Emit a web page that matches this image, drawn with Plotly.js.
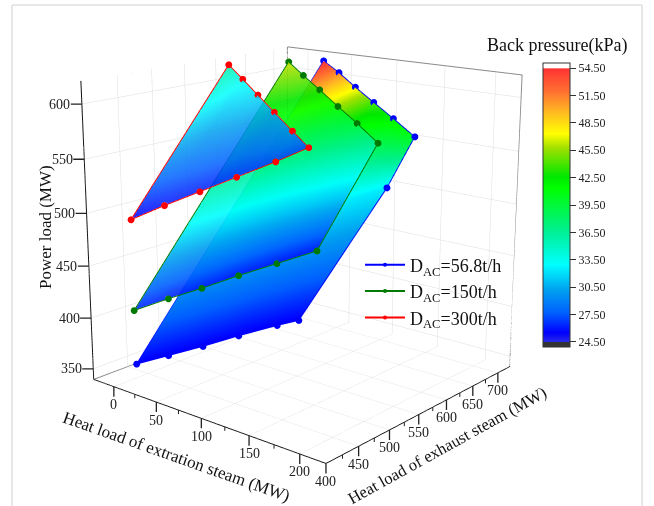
<!DOCTYPE html>
<html><head><meta charset="utf-8"><script src="https://cdn.plot.ly/plotly-3.0.1.min.js"></script>
<style>html,body{margin:0;background:#fff;overflow:hidden;width:654px;height:506px}#w{position:relative;width:654px;height:506px;overflow:hidden}#g{position:absolute;left:-52px;top:-348px;width:711px;height:1130px}</style></head>
<body><div id="w"><div id="g"></div></div>
<script>
var xRange=[-24.7,224.7],yRange=[400,724.7],zRange=[339.4,620.6];
var xTicks=[0,50,100,150,200],yTicks=[400,450,500,550,600,650,700],zTicks=[350,400,450,500,550,600];
var xMinor=[25,75,125,175],yMinor=[425,475,525,575,625,675];
// DAC = 56.8 t/h
var blueLowX=[0,40,80,120,160,183],blueLowY=[434,432,431,429,428,425],blueLowZ=[353,373,393,414,434,445],blueLowP=[25.5,25.5,25.5,25.5,25.5,25.5];
var blueMidX=[13,50,87,123,160,197],blueMidY=[543,547,549,549,545,538],blueMidZ=[459,475,492,508,524,541],blueMidP=[32.5,32.5,32.5,32.5,32.5,32.5];
var blueTopX=[30,64,98,132,166,200],blueTopY=[706,679,652,627,602,578],blueTopZ=[614,609,602,595,588,580],blueTopP=[54.5,51,47.5,44,42,40.5];
// DAC = 150 t/h
var greenLowX=[0,40,80,120,160,200],greenLowY=[433,434,431,430,428,425],greenLowZ=[406,427,447,468,488,508],greenLowP=[26.5,26.3,26.2,26.1,26,26];
var greenTopX=[-5,36,77,118,159,200],greenTopY=[697,660,624,589,553,517],greenTopZ=[610,605,600,594,589,583],greenTopP=[46.5,45,43,41,39,36.5];
// DAC = 300 t/h
var redLowX=[0,40,80,120,160,200],redLowY=[433,432,431,429,427,413],redLowZ=[493,514,534,554,574,594],redLowP=[25.5,26,26.2,26.5,26.8,27];
var redTopX=[-15,28,71,114,157,200],redTopY=[608,570,532,494,456,413],redTopZ=[615,610,605,600,595,594],redTopP=[36,33.5,32,30,29,27];
var seriesNames=['D<sub>AC</sub>=56.8t/h','D<sub>AC</sub>=150t/h','D<sub>AC</sub>=300t/h'];
var barTicks=[24.5,27.5,30.5,33.5,36.5,39.5,42.5,45.5,48.5,51.5,54.5];
var barLabels=['24.50','27.50','30.50','33.50','36.50','39.50','42.50','45.50','48.50','51.50','54.50'];
var PW=711,PH=1130,OX=-52,OY=-348;
function px(x){return (x-OX)/PW}function py(y){return 1-(y-OY)/PH}
var SERIF='Liberation Serif';
var cs=[[0,'#333333'],[0.017,'#333333'],[0.018,'#2a2ae8'],[0.05,'#0000ff'],[0.12,'#0060ff'],[0.2,'#00a0f0'],[0.29,'#00ffff'],[0.41,'#00f090'],[0.56,'#00ff00'],[0.6,'#00e800'],[0.7,'#a0e000'],[0.75,'#ffff00'],[0.82,'#ffc020'],[0.9,'#ff7030'],[0.98,'#ff3333'],[0.982,'#ffffff'],[1,'#ffffff']];
function sheet(X,Y,Z,C,op,bar){var s={type:'surface',x:X,y:Y,z:Z,surfacecolor:C,cmin:23.95,cmax:55.05,colorscale:cs,opacity:op,showscale:!!bar,hoverinfo:'skip',lighting:{ambient:1,diffuse:0,specular:0,roughness:1,fresnel:0}};
 if(bar)s.colorbar={x:px(543),xanchor:'left',y:py(63),yanchor:'top',lenmode:'pixels',len:284,thicknessmode:'pixels',thickness:27,xpad:0,ypad:0,outlinecolor:'#333',outlinewidth:1,ticks:'outside',ticklen:6,tickcolor:'#333',tickvals:barTicks,ticktext:barLabels,tickfont:{size:12,family:SERIF,color:'#222'}};
 return s}
function rev(a){return a.slice().reverse()}
function loop(X,Y,Z,name,c){return {type:'scatter3d',mode:'lines+markers',name:name,x:X,y:Y,z:Z,line:{color:c,width:2},marker:{color:c,size:4},hoverinfo:'skip'}}
var xa=xRange,ya=yRange,za=zRange;
var frameA={type:'scatter3d',mode:'lines',x:[xa[0],xa[0],xa[1],xa[1],xa[0]],y:[ya[0],ya[1],ya[1],ya[1],ya[1]],z:[za[1],za[1],za[1],za[0],za[0]],line:{color:'#8a8a8a',width:2},showlegend:false,hoverinfo:'skip'};
var frameB={type:'scatter3d',mode:'lines',x:[xa[0],xa[0]],y:[ya[1],ya[1]],z:[za[0],za[1]],line:{color:'#8a8a8a',width:2},showlegend:false,hoverinfo:'skip'};
var frameC={type:'scatter3d',mode:'lines',x:[xa[0],xa[0]],y:[ya[0],ya[1]],z:[za[0],za[0]],line:{color:'#8a8a8a',width:2},showlegend:false,hoverinfo:'skip'};
var data=[
 sheet([blueLowX,blueMidX,blueTopX],[blueLowY,blueMidY,blueTopY],[blueLowZ,blueMidZ,blueTopZ],[blueLowP,blueMidP,blueTopP],1,true),
 sheet([greenLowX,greenTopX],[greenLowY,greenTopY],[greenLowZ,greenTopZ],[greenLowP,greenTopP],0.9,false),
 sheet([redLowX,redTopX],[redLowY,redTopY],[redLowZ,redTopZ],[redLowP,redTopP],0.85,false),
 loop(blueLowX.concat(blueMidX[5],rev(blueTopX),blueLowX[0]),blueLowY.concat(blueMidY[5],rev(blueTopY),blueLowY[0]),blueLowZ.concat(blueMidZ[5],rev(blueTopZ),blueLowZ[0]),seriesNames[0],'#0000ff'),
 loop(greenLowX.concat(rev(greenTopX),greenLowX[0]),greenLowY.concat(rev(greenTopY),greenLowY[0]),greenLowZ.concat(rev(greenTopZ),greenLowZ[0]),seriesNames[1],'#007a00'),
 loop(redLowX.concat(rev(redTopX),redLowX[0]),redLowY.concat(rev(redTopY),redLowY[0]),redLowZ.concat(rev(redTopZ),redLowZ[0]),seriesNames[2],'#ff0000'),
 frameA,frameB,frameC];
function ax(r){return {range:r,tick0:0,dtick:50,title:{text:''},showticklabels:false,ticks:'',showbackground:false,showspikes:false,gridcolor:'#dddddd',gridwidth:1,zeroline:false,showline:true,linecolor:'#111',linewidth:2}}
function ann(t,x,y,a,s){return {xref:'paper',yref:'paper',x:px(x),y:py(y),text:t,textangle:a,showarrow:false,xanchor:'center',yanchor:'middle',font:{size:s,family:SERIF,color:'#111'}}}
function seg(x0,y0,x1,y1){return {type:'line',xref:'paper',yref:'paper',x0:px(x0),x1:px(x1),y0:py(y0),y1:py(y1),line:{color:'#d0d0d0',width:1}}}
function tick(x,y,z,label,dx,dy){return {x:x,y:y,z:z,text:String(label),showarrow:true,arrowhead:0,arrowwidth:1.3,arrowcolor:'#222',standoff:0,ax:dx,ay:dy,borderpad:0,font:{size:14,family:SERIF,color:'#222'}}}
function minor(x,y,z){return {x:x,y:y,z:z,text:'.',showarrow:true,arrowhead:0,arrowwidth:1,arrowcolor:'#222',standoff:0,ax:0,ay:5,borderpad:0,font:{size:1,family:SERIF,color:'rgba(0,0,0,0)'}}}
var tickAnn=[];
xTicks.forEach(function(v){tickAnn.push(tick(v,yRange[0],zRange[0],v,0,18))});
yTicks.forEach(function(v){tickAnn.push(tick(xRange[1],v,zRange[0],v,0,18))});
zTicks.forEach(function(v){tickAnn.push(tick(xRange[0],yRange[0],v,v,-22,0))});
xMinor.forEach(function(v){tickAnn.push(minor(v,yRange[0],zRange[0]))});
yMinor.forEach(function(v){tickAnn.push(minor(xRange[1],v,zRange[0]))});
var layout={width:PW,height:PH,margin:{l:0,r:0,t:0,b:0},paper_bgcolor:'#fff',showlegend:true,
 legend:{x:px(360),y:py(246.5),xanchor:'left',yanchor:'top',itemwidth:40,bgcolor:'rgba(0,0,0,0)',font:{size:18,family:SERIF,color:'#111'}},
 shapes:[seg(12,5,12,506),seg(642,5,642,506),seg(12,5,642,5)],
 annotations:[ann('Power load (MW)',45,227,-90,17),ann('Heat load of extration steam (MW)',176,456,19.5,17),ann('Heat load of exhaust steam (MW)',447,445,-29,16.5),ann('Back pressure(kPa)',557,45.7,0,18)],
 scene:{domain:{x:[0,1],y:[0,1]},aspectmode:'manual',aspectratio:{x:1,y:0.995,z:1.005},camera:{eye:{x:2.775,y:-3.3,z:1.21},center:{x:-0.017,y:0.016,z:0.037},up:{x:-0.002,y:-0.003,z:1}},
 annotations:tickAnn,xaxis:ax(xRange),yaxis:ax(yRange),zaxis:ax(zRange)}};
Plotly.newPlot('g',data,layout,{displayModeBar:false});
</script></body></html>
